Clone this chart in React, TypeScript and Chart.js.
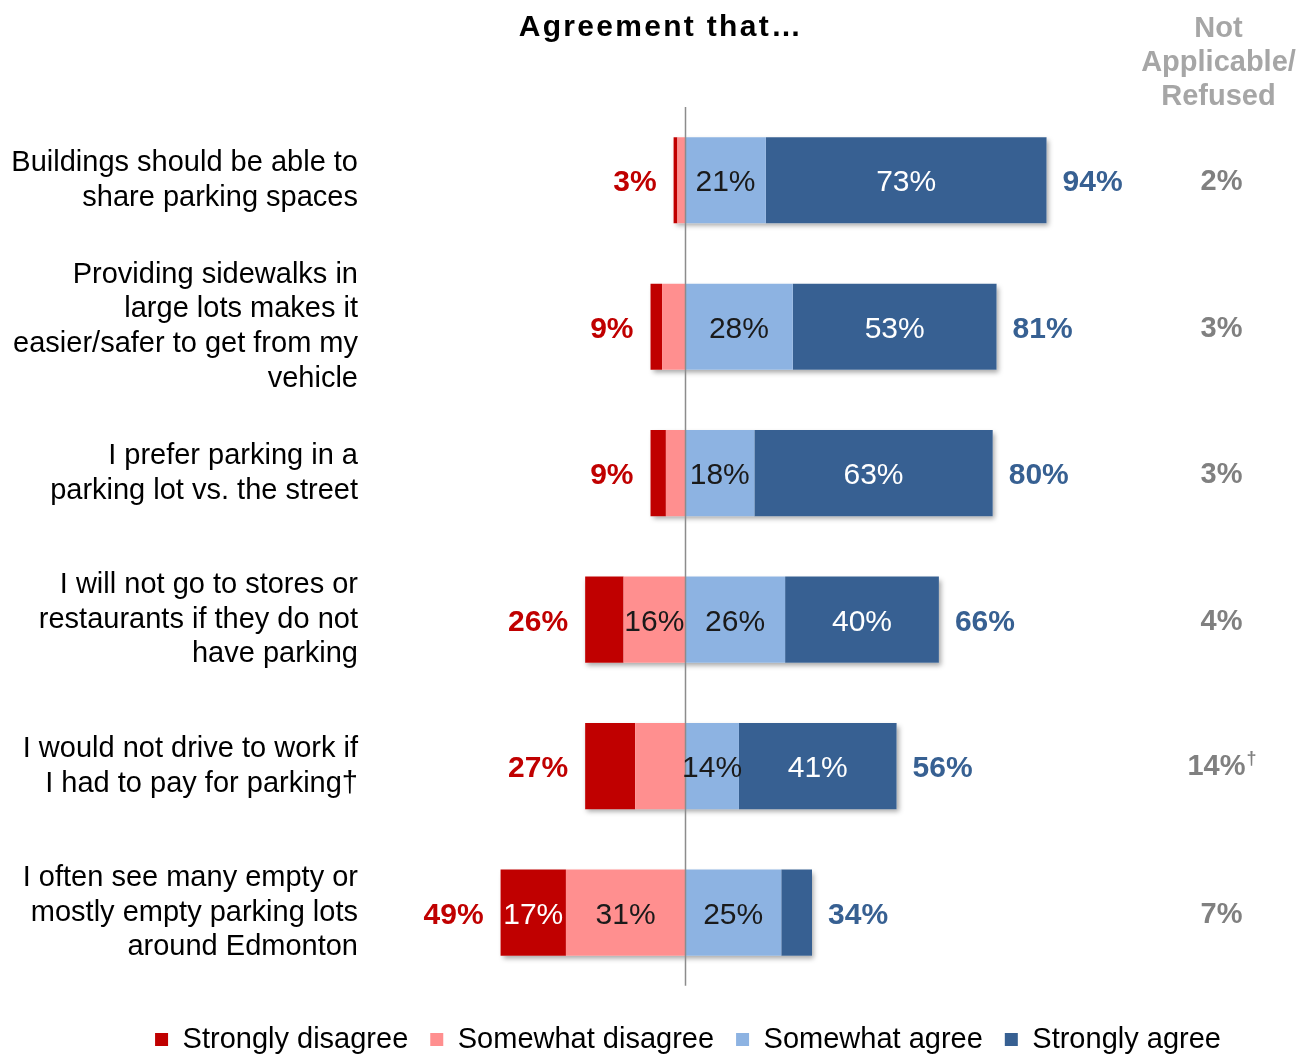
import React, { useEffect, useRef } from "react";
import { Chart, registerables } from "chart.js";

Chart.register(...registerables);

const FONT = '"Liberation Sans", Arial, sans-serif';

const TITLE = "Agreement that…";

const CATEGORIES = [
  ["Buildings should be able to", "share parking spaces"],
  ["Providing sidewalks in", "large lots makes it", "easier/safer to get from my", "vehicle"],
  ["I prefer parking in a", "parking lot vs. the street"],
  ["I will not go to stores or", "restaurants if they do not", "have parking"],
  ["I would not drive to work if", "I had to pay for parking†"],
  ["I often see many empty or", "mostly empty parking lots", "around Edmonton"],
];

const SERIES_NAMES = ["Strongly disagree", "Somewhat disagree", "Somewhat agree", "Strongly agree"];

const STRONGLY_DISAGREE = [1, 3, 4, 10, 13, 17];
const SOMEWHAT_DISAGREE = [2, 6, 5, 16, 13, 31];
const SOMEWHAT_AGREE = [21, 28, 18, 26, 14, 25];
const STRONGLY_AGREE = [73, 53, 62, 40, 41, 8];

const STRONGLY_DISAGREE_LABELS = ["", "", "", "", "", "17%"];
const SOMEWHAT_DISAGREE_LABELS = ["", "", "", "16%", "", "31%"];
const SOMEWHAT_AGREE_LABELS = ["21%", "28%", "18%", "26%", "14%", "25%"];
const STRONGLY_AGREE_LABELS = ["73%", "53%", "63%", "40%", "41%", ""];

const DISAGREE_TOTALS = ["3%", "9%", "9%", "26%", "27%", "49%"];
const AGREE_TOTALS = ["94%", "81%", "80%", "66%", "56%", "34%"];
const NOT_APPLICABLE = ["2%", "3%", "3%", "4%", "14%†", "7%"];
const NA_HEADER = ["Not", "Applicable/", "Refused"];
const NA_X_VALUE = 139.5;

const C_DARK_RED = "#c00000";
const C_LIGHT_RED = "#ff8f8f";
const C_LIGHT_BLUE = "#8db3e2";
const C_DARK_BLUE = "#376092";
const C_GRAY = "#808080";

const annotatePlugin = {
  id: "annotate",
  beforeDatasetsDraw(chart: any) {
    const ctx = chart.ctx;
    const n = chart.data.labels.length;
    ctx.save();
    for (let i = 0; i < n; i++) {
      let l = Infinity, r = -Infinity, t = 0, b = 0;
      chart.data.datasets.forEach((_: any, di: number) => {
        const bar = chart.getDatasetMeta(di).data[i];
        if (!bar) return;
        const p = bar.getProps(["x", "base", "y", "height"], true);
        l = Math.min(l, p.x, p.base);
        r = Math.max(r, p.x, p.base);
        t = p.y - p.height / 2;
        b = p.y + p.height / 2;
      });
      ctx.shadowColor = "rgba(0,0,0,0.35)";
      ctx.shadowBlur = 5;
      ctx.shadowOffsetX = 2;
      ctx.shadowOffsetY = 3;
      ctx.fillStyle = "#ffffff";
      ctx.fillRect(l, t, r - l, b - t);
    }
    ctx.restore();
  },
  afterDatasetsDraw(chart: any) {
    const ctx = chart.ctx;
    const xs = chart.scales.x;
    const area = chart.chartArea;
    ctx.save();

    // title
    ctx.font = `bold 30px ${FONT}`;
    ctx.fillStyle = "#000000";
    ctx.textAlign = "center";
    ctx.textBaseline = "alphabetic";
    (ctx as any).letterSpacing = "2.3px";
    ctx.fillText(TITLE, chart.width / 2 + 7, area.top - 71);
    (ctx as any).letterSpacing = "0px";

    // zero line
    const x0 = Math.round(xs.getPixelForValue(0)) + 0.5;
    ctx.strokeStyle = "#8c8c8c";
    ctx.lineWidth = 1.5;
    ctx.beginPath();
    ctx.moveTo(x0, area.top);
    ctx.lineTo(x0, area.bottom);
    ctx.stroke();

    ctx.textBaseline = "middle";
    // segment labels
    chart.data.datasets.forEach((ds: any, di: number) => {
      const meta = chart.getDatasetMeta(di);
      meta.data.forEach((bar: any, i: number) => {
        const text = ds.segLabels[i];
        if (!text) return;
        const p = bar.getProps(["x", "base", "y"], true);
        ctx.font = `30px ${FONT}`;
        ctx.fillStyle = ds.textColor;
        ctx.textAlign = "center";
        ctx.fillText(text, (p.x + p.base) / 2, p.y + 3);
      });
    });

    // totals and N/A column
    const n = chart.data.labels.length;
    for (let i = 0; i < n; i++) {
      let l = Infinity, r = -Infinity, y = 0;
      chart.data.datasets.forEach((_: any, di: number) => {
        const bar = chart.getDatasetMeta(di).data[i];
        const p = bar.getProps(["x", "base", "y"], true);
        l = Math.min(l, p.x, p.base);
        r = Math.max(r, p.x, p.base);
        y = p.y;
      });
      ctx.font = `bold 30px ${FONT}`;
      ctx.fillStyle = C_DARK_RED;
      ctx.textAlign = "right";
      ctx.fillText(DISAGREE_TOTALS[i], l - 17, y + 3);
      ctx.fillStyle = C_DARK_BLUE;
      ctx.textAlign = "left";
      ctx.fillText(AGREE_TOTALS[i], r + 16, y + 3);

      const na = NOT_APPLICABLE[i];
      const nx = xs.getPixelForValue(NA_X_VALUE);
      ctx.fillStyle = C_GRAY;
      if (na.endsWith("†")) {
        const main = na.slice(0, -1);
        ctx.font = `bold 29px ${FONT}`;
        const w = ctx.measureText(main).width;
        ctx.font = `bold 18px ${FONT}`;
        const wd = ctx.measureText("†").width;
        const start = nx - (w + wd) / 2;
        ctx.textAlign = "left";
        ctx.font = `bold 29px ${FONT}`;
        ctx.fillText(main, start, y + 1);
        ctx.font = `bold 18px ${FONT}`;
        ctx.fillText("†", start + w + 1, y - 7);
      } else {
        ctx.textAlign = "center";
        ctx.font = `bold 29px ${FONT}`;
        ctx.fillText(na, nx, y + 2);
      }
    }

    // N/A header
    const hx = xs.getPixelForValue(NA_X_VALUE) - 3;
    ctx.font = `bold 29px ${FONT}`;
    ctx.fillStyle = "#a6a6a6";
    ctx.textAlign = "center";
    NA_HEADER.forEach((line, k) => {
      ctx.fillText(line, hx, area.top - 78 + k * 34);
    });
    ctx.restore();
  },
};

export default function App() {
  const ref = useRef<HTMLCanvasElement | null>(null);

  useEffect(() => {
    if (!ref.current) return;
    const neg = (arr: number[]) => arr.map((v) => -v);
    const chart = new Chart(ref.current, {
      type: "bar",
      data: {
        labels: CATEGORIES as any,
        datasets: [
          {
            label: SERIES_NAMES[0],
            data: neg(STRONGLY_DISAGREE),
            backgroundColor: C_DARK_RED,
            order: 2,
            segLabels: STRONGLY_DISAGREE_LABELS,
            textColor: "#ffffff",
          } as any,
          {
            label: SERIES_NAMES[1],
            data: neg(SOMEWHAT_DISAGREE),
            backgroundColor: C_LIGHT_RED,
            order: 0,
            segLabels: SOMEWHAT_DISAGREE_LABELS,
            textColor: "#1a1a1a",
          },
          {
            label: SERIES_NAMES[2],
            data: SOMEWHAT_AGREE,
            backgroundColor: C_LIGHT_BLUE,
            order: 1,
            segLabels: SOMEWHAT_AGREE_LABELS,
            textColor: "#1a1a1a",
          },
          {
            label: SERIES_NAMES[3],
            data: STRONGLY_AGREE,
            backgroundColor: C_DARK_BLUE,
            order: 3,
            segLabels: STRONGLY_AGREE_LABELS,
            textColor: "#ffffff",
          },
        ],
      },
      options: {
        indexAxis: "y",
        responsive: false,
        animation: false,
        devicePixelRatio: 1,
        layout: { padding: { left: 12, right: -56, top: 107, bottom: 0 } },
        datasets: {
          bar: { barPercentage: 1, categoryPercentage: 0.588, borderWidth: 0 },
        },
        scales: {
          x: {
            display: false,
            stacked: true,
            min: -83,
            max: 162,
            grid: { display: false },
          },
          y: {
            stacked: true,
            grid: { display: false, drawTicks: false },
            border: { display: false },
            ticks: {
              padding: 8,
              color: "#000000",
              font: { family: FONT, size: 29, lineHeight: 1.2 },
            },
            afterFit: (scale: any) => {
              scale.width = 354;
            },
          },
        },
        plugins: {
          title: { display: false },
          legend: {
            position: "bottom",
            title: {
              display: true,
              text: " ",
              font: { size: 1, lineHeight: 1.2 },
              padding: { top: 8, bottom: 8 },
            },
            labels: {
              color: "#000000",
              font: { family: FONT, size: 29 },
              boxWidth: 13,
              boxHeight: 13,
              padding: 22,
              sort: (a: any, b: any) => a.datasetIndex - b.datasetIndex,
            },
          },
          tooltip: { enabled: false },
        },
      } as any,
      plugins: [annotatePlugin],
    });
    return () => chart.destroy();
  }, []);

  return (
    <div
      style={{
        position: "absolute",
        left: 0,
        top: 0,
        width: 1308,
        height: 1054,
        overflow: "hidden",
        background: "#ffffff",
      }}
    >
      <canvas ref={ref} width={1308} height={1064} style={{ display: "block" }} />
    </div>
  );
}
